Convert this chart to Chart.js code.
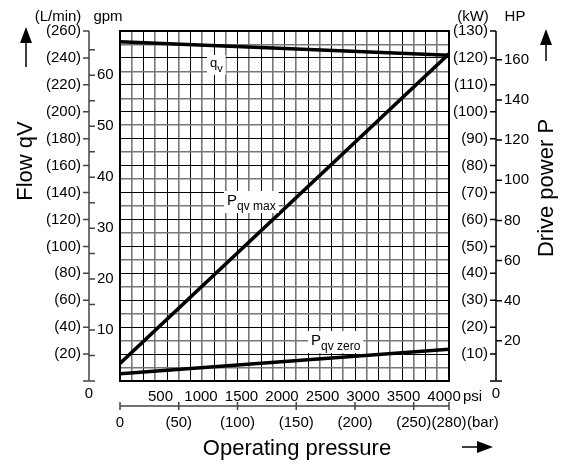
<!DOCTYPE html>
<html>
<head>
<meta charset="utf-8">
<script src="https://cdn.jsdelivr.net/npm/chart.js@4.4.1/dist/chart.umd.min.js"></script>
<style>
  body { margin: 0; background: #fff; }
  #wrap { width: 561px; height: 464px; }
</style>
</head>
<body>
<div id="wrap"><canvas id="chart" width="561" height="464"></canvas></div>
<script>
// line end points
const pressureBar = [0, 280];
const flowLmin = [252, 242];
const powerMaxKw = [6.5, 121.5];
const powerZeroKw = [2.7, 11.8];

// tick labels of the outer axes
const flowTicks = [20, 40, 60, 80, 100, 120, 140, 160, 180, 200, 220, 240, 260];
const gpmTicks = [10, 20, 30, 40, 50, 60];
const gpmMinor = [5, 15, 25, 35, 45, 55, 65];
const kwTicks = [10, 20, 30, 40, 50, 60, 70, 80, 90, 100, 110, 120, 130];
const hpTicks = [20, 40, 60, 80, 100, 120, 140, 160];
const psiTicks = [500, 1000, 1500, 2000, 2500, 3000, 3500, 4000];
const barTicks = [0, 50, 100, 150, 200, 250, 280];

const LMIN_PER_GPM = 3.78541;
const KW_PER_HP = 0.7457;
const PSI_PER_BAR = 14.5038;

const FONT = "'Liberation Sans', Arial, sans-serif";

function pts(xs, ys) {
    return xs.map((x, i) => ({ x: x, y: ys[i] }));
}

function gridColor(c) {
    return c.tick.value % 20 === 0 ? '#000' : '#777';
}

function gridWidth(c) {
    return c.tick.value % 20 === 0 ? 1 : 1.6;
}

function arrow(ctx, x1, y1, x2, y2) {
    // shaft from (x1,y1) to head tip (x2,y2)
    const ang = Math.atan2(y2 - y1, x2 - x1);
    const hl = 16, hw = 6;
    const bx = x2 - hl * Math.cos(ang), by = y2 - hl * Math.sin(ang);
    ctx.strokeStyle = '#000';
    ctx.lineWidth = 1.5;
    ctx.beginPath();
    ctx.moveTo(x1, y1);
    ctx.lineTo(bx, by);
    ctx.stroke();
    ctx.fillStyle = '#000';
    ctx.beginPath();
    ctx.moveTo(x2, y2);
    ctx.lineTo(bx - hw * Math.sin(ang), by + hw * Math.cos(ang));
    ctx.lineTo(bx + hw * Math.sin(ang), by - hw * Math.cos(ang));
    ctx.closePath();
    ctx.fill();
}

function subLabel(ctx, x, y, main, sub, mainSize, subSize) {
    // white box behind a label like P with subscript
    ctx.font = mainSize + 'px ' + FONT;
    const w1 = ctx.measureText(main).width;
    ctx.font = subSize + 'px ' + FONT;
    const w2 = ctx.measureText(sub).width;
    ctx.fillStyle = '#fff';
    ctx.fillRect(x - 3, y - mainSize + 1, w1 + w2 + 6, mainSize + 7);
    ctx.fillStyle = '#000';
    ctx.textAlign = 'left';
    ctx.textBaseline = 'alphabetic';
    ctx.font = mainSize + 'px ' + FONT;
    ctx.fillText(main, x, y);
    ctx.font = subSize + 'px ' + FONT;
    ctx.fillText(sub, x + w1, y + 5);
}

const framePlugin = {
    id: 'frame',
    beforeDatasetsDraw(chart) {
        const ctx = chart.ctx, a = chart.chartArea;
        ctx.save();
        ctx.strokeStyle = '#000';
        ctx.lineWidth = 2;
        ctx.strokeRect(a.left, a.top, a.right - a.left, a.bottom - a.top);
        ctx.restore();
    },
    afterDraw(chart) {
        const ctx = chart.ctx, a = chart.chartArea;
        const s = chart.scales;
        ctx.save();

        // line labels
        subLabel(ctx, 210, 67, 'q', 'v', 13, 11);
        subLabel(ctx, 227, 205, 'P', 'qv max', 15, 12);
        subLabel(ctx, 311, 345, 'P', 'qv zero', 15, 12);

        ctx.font = '15px ' + FONT;
        ctx.fillStyle = '#000';

        // left axis: L/min outside, gpm inside
        const lx = a.left - 31;
        const top = s.y.getPixelForValue(260), bot = s.y.getPixelForValue(0);
        ctx.strokeStyle = '#444';
        ctx.lineWidth = 1.5;
        ctx.beginPath();
        ctx.moveTo(lx, top);
        ctx.lineTo(lx, bot);
        ctx.moveTo(lx - 6, bot);
        ctx.lineTo(lx + 6, bot);
        flowTicks.forEach(v => {
            const y = s.y.getPixelForValue(v);
            ctx.moveTo(lx - 6, y);
            ctx.lineTo(lx, y);
        });
        gpmTicks.concat(gpmMinor).forEach(v => {
            const y = s.yGpm.getPixelForValue(v);
            ctx.moveTo(lx, y);
            ctx.lineTo(lx + 6, y);
        });
        ctx.stroke();
        ctx.textBaseline = 'middle';
        ctx.textAlign = 'right';
        flowTicks.forEach(v => ctx.fillText('(' + v + ')', lx - 8, s.y.getPixelForValue(v)));
        ctx.textAlign = 'left';
        gpmTicks.forEach(v => ctx.fillText(String(v), lx + 8, s.yGpm.getPixelForValue(v)));
        ctx.textAlign = 'center';
        ctx.fillText('0', lx, bot + 13);
        ctx.fillText('(L/min)', 58, 17);
        ctx.fillText('gpm', 108, 17);

        // right axis: kW inside, HP outside
        const rx = a.right + 47;
        ctx.strokeStyle = '#000';
        ctx.beginPath();
        ctx.moveTo(rx, s.yKw.getPixelForValue(130));
        ctx.lineTo(rx, s.yKw.getPixelForValue(0));
        ctx.moveTo(rx - 6, bot);
        ctx.lineTo(rx + 6, bot);
        kwTicks.forEach(v => {
            const y = s.yKw.getPixelForValue(v);
            ctx.moveTo(rx - 6, y);
            ctx.lineTo(rx, y);
        });
        hpTicks.forEach(v => {
            const y = s.yHp.getPixelForValue(v);
            ctx.moveTo(rx, y);
            ctx.lineTo(rx + 6, y);
        });
        ctx.stroke();
        ctx.textAlign = 'right';
        kwTicks.forEach(v => ctx.fillText('(' + v + ')', rx - 8, s.yKw.getPixelForValue(v)));
        ctx.textAlign = 'left';
        hpTicks.forEach(v => ctx.fillText(String(v), rx + 8, s.yHp.getPixelForValue(v)));
        ctx.textAlign = 'center';
        ctx.fillText('0', rx, bot + 13);
        ctx.fillText('(kW)', 473, 17);
        ctx.fillText('HP', 515, 17);

        // bottom: psi labels above, bar axis line with labels below
        const by = a.bottom + 25;
        psiTicks.forEach(v => ctx.fillText(String(v), s.xPsi.getPixelForValue(v), a.bottom + 16));
        ctx.textAlign = 'left';
        ctx.fillText('psi', s.x.getPixelForValue(280) + 14, a.bottom + 16);
        ctx.strokeStyle = '#444';
        ctx.beginPath();
        ctx.moveTo(s.x.getPixelForValue(0), by);
        ctx.lineTo(s.x.getPixelForValue(280), by);
        barTicks.forEach(v => {
            const x = s.x.getPixelForValue(v);
            ctx.moveTo(x, by - 4);
            ctx.lineTo(x, by + 4);
        });
        ctx.stroke();
        ctx.textAlign = 'center';
        barTicks.forEach(v => {
            const t = v === 0 ? '0' : '(' + v + ')';
            ctx.fillText(t, s.x.getPixelForValue(v), by + 17);
        });
        ctx.textAlign = 'left';
        ctx.fillText('(bar)', s.x.getPixelForValue(280) + 18, by + 17);

        // axis titles
        ctx.font = '22px ' + FONT;
        ctx.textBaseline = 'alphabetic';
        ctx.textAlign = 'center';
        ctx.fillText('Operating pressure', 297, 455);
        ctx.save();
        ctx.translate(32, 161);
        ctx.rotate(-Math.PI / 2);
        ctx.fillText('Flow qV', 0, 0);
        ctx.restore();
        ctx.save();
        ctx.translate(553, 188);
        ctx.rotate(-Math.PI / 2);
        ctx.fillText('Drive power P', 0, 0);
        ctx.restore();

        // arrows
        arrow(ctx, 26, 67, 26, 27);
        arrow(ctx, 546, 61, 546, 29);
        arrow(ctx, 462, 447, 493, 447);

        ctx.restore();
    }
};

const lineStyle = { borderColor: '#000', borderWidth: 3.5, pointRadius: 0, fill: false, tension: 0 };

new Chart(document.getElementById('chart'), {
    type: 'line',
    data: {
        datasets: [
            Object.assign({ label: 'qv', data: pts(pressureBar, flowLmin), yAxisID: 'y' }, lineStyle),
            Object.assign({ label: 'P qv max', data: pts(pressureBar, powerMaxKw), yAxisID: 'yKw' }, lineStyle),
            Object.assign({ label: 'P qv zero', data: pts(pressureBar, powerZeroKw), yAxisID: 'yKw' }, lineStyle)
        ]
    },
    options: {
        responsive: false,
        animation: false,
        layout: { padding: { left: 120, right: 112, top: 31, bottom: 83 } },
        plugins: { legend: { display: false }, tooltip: { enabled: false } },
        scales: {
            x: {
                type: 'linear', min: 0, max: 280,
                ticks: { display: false, stepSize: 10 },
                border: { display: false },
                grid: { drawTicks: false, color: gridColor, lineWidth: gridWidth }
            },
            y: {
                type: 'linear', min: 0, max: 260,
                ticks: { display: false, stepSize: 10 },
                border: { display: false },
                grid: { drawTicks: false, color: gridColor, lineWidth: gridWidth }
            },
            yKw: { type: 'linear', display: false, min: 0, max: 130 },
            yGpm: { type: 'linear', display: false, min: 0, max: 260 / LMIN_PER_GPM },
            yHp: { type: 'linear', display: false, min: 0, max: 130 / KW_PER_HP },
            xPsi: { type: 'linear', display: false, axis: 'x', position: 'bottom', min: 0, max: 280 * PSI_PER_BAR }
        }
    },
    plugins: [framePlugin]
});
</script>
</body>
</html>
